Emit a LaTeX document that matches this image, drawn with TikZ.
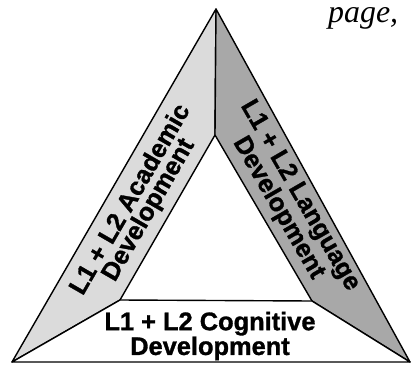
\documentclass[tikz,border=0pt]{standalone}
\usepackage{fontspec}
\setmainfont{Liberation Sans}
\newfontfamily\lblfont{Liberation Sans}[BoldFeatures={FakeBold=1.2}]
\newfontfamily\handfont{Liberation Serif}
\begin{document}
\begin{tikzpicture}[x=1bp, y=-1bp,
    band/.style={draw=black, line width=1.4bp, line join=round},
    lbl/.style={font=\lblfont\bfseries\fontsize{25.5}{21}\selectfont, align=center, inner sep=0pt}]
  \useasboundingbox (0,0) rectangle (412,368);
  \coordinate (top) at (216,9);
  \coordinate (inTop) at (215,135);
  \coordinate (bl) at (12,362);
  \coordinate (inBl) at (120,300);
  \coordinate (br) at (410,362);
  \coordinate (inBr) at (312,301);
  % three sides of the triangle
  \filldraw[band, fill=gray!28] (top) -- (inTop) -- (inBl) -- (bl) -- cycle;
  \filldraw[band, fill=gray!68] (top) -- (br) -- (inBr) -- (inTop) -- cycle;
  \filldraw[band, fill=white] (bl) -- (inBl) -- (inBr) -- (br) -- cycle;
  \node[lbl, rotate=60] (academic) at (140,205) {L1 + L2 Academic\\Development};
  \node[lbl, rotate=-60] (language) at (289,202) {L1 + L2 Language\\Development};
  \node[lbl] (cognitive) at (210,336) {L1 + L2 Cognitive\\Development};
  \node[font=\handfont\itshape\fontsize{32}{32}\selectfont, inner sep=0pt, text height=14bp, anchor=base west] (note) at (328,22) {page,};
\end{tikzpicture}
\end{document}
